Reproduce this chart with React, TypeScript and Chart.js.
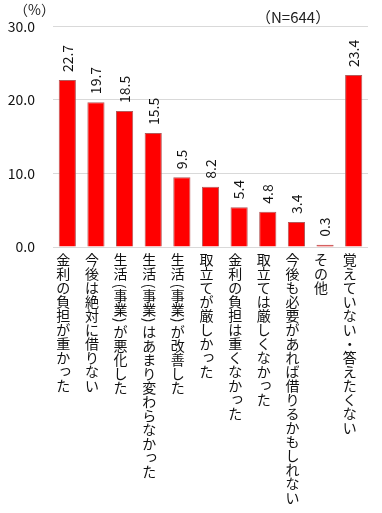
import React, { useEffect, useRef } from "react";
import { Chart, registerables } from "chart.js";

Chart.register(...registerables);

const categories = [
  "金利の負担が重かった",
  "今後は絶対に借りない",
  "生活（事業）が悪化した",
  "生活（事業）はあまり変わらなかった",
  "生活（事業）が改善した",
  "取立てが厳しかった",
  "金利の負担は重くなかった",
  "取立ては厳しくなかった",
  "今後も必要があれば借りるかもしれない",
  "その他",
  "覚えていない・答えたくない",
];
const values = [22.7, 19.7, 18.5, 15.5, 9.5, 8.2, 5.4, 4.8, 3.4, 0.3, 23.4];
const yTicks = [0, 10, 20, 30];
const unitLabel = "（%）";
const sampleLabel = "（N=644）";

const FONT = "'Noto Sans CJK JP', 'Noto Sans', sans-serif";
const SMALL_KANA = "っゃゅょぁぃぅぇぉ";

const chartPlugin = {
  id: "customText",
  afterDatasetsDraw(chart: any) {
    const ctx = chart.ctx;
    const meta = chart.getDatasetMeta(0);
    ctx.save();
    ctx.font = `14px ${FONT}`;
    ctx.fillStyle = "#111";
    ctx.textAlign = "left";
    ctx.textBaseline = "middle";
    meta.data.forEach((bar: any, i: number) => {
      ctx.save();
      ctx.translate(bar.x, bar.y - 8);
      ctx.rotate(-Math.PI / 2);
      ctx.fillText(values[i].toFixed(1), 0, 0);
      ctx.restore();
    });
    ctx.restore();
  },
  afterDraw(chart: any) {
    const ctx = chart.ctx;
    const xs = chart.scales.x;
    ctx.save();
    ctx.font = `14px ${FONT}`;
    ctx.fillStyle = "#111";
    ctx.textAlign = "center";
    ctx.textBaseline = "middle";
    categories.forEach((label, i) => {
      const cx = xs.getPixelForValue(i) - 4;
      let y = chart.chartArea.bottom + 6;
      for (const ch of Array.from(label)) {
        if (ch === "（" || ch === "）") {
          const h = 8;
          ctx.save();
          ctx.translate(cx, y + h / 2 + (ch === "（" ? 1 : -1));
          ctx.rotate(Math.PI / 2);
          ctx.fillText(ch === "（" ? "(" : ")", 0, 0);
          ctx.restore();
          y += h;
        } else {
          const h = 14;
          if (SMALL_KANA.includes(ch)) {
            ctx.fillText(ch, cx + 2, y + h / 2 - 2);
          } else {
            ctx.fillText(ch, cx, y + h / 2);
          }
          y += h;
        }
      }
    });
    ctx.fillStyle = "#222";
    ctx.textAlign = "left";
    ctx.fillText(unitLabel, 14, 10);
    ctx.font = `15px ${FONT}`;
    ctx.fillText(sampleLabel, 256, 17);
    ctx.restore();
  },
};

export default function App() {
  const ref = useRef<HTMLCanvasElement>(null);
  useEffect(() => {
    if (!ref.current) return;
    const chart = new Chart(ref.current, {
      type: "bar",
      data: {
        labels: categories,
        datasets: [
          {
            data: values,
            backgroundColor: "#ff0000",
            borderColor: "#b45a5a",
            borderWidth: 1,
            barPercentage: 0.6,
            categoryPercentage: 1,
          },
        ],
      },
      options: {
        responsive: false,
        animation: false,
        layout: { padding: { top: 25, right: 14, left: 0, bottom: 0 } },
        plugins: {
          legend: { display: false },
          tooltip: { enabled: false },
        },
        scales: {
          x: {
            grid: { display: false },
            border: { display: false },
            ticks: { display: false },
            afterFit: (s: any) => {
              s.height = 266;
            },
          },
          y: {
            min: 0,
            max: 30,
            afterBuildTicks: (s: any) => {
              s.ticks = yTicks.map((v) => ({ value: v }));
            },
            grid: { color: "#d9d9d9", drawTicks: false },
            border: { display: false },
            ticks: {
              padding: 18,
              color: "#111",
              font: { family: FONT, size: 14 },
              callback: (v: any) => Number(v).toFixed(1),
            },
            afterFit: (s: any) => {
              s.width = 53;
            },
          },
        },
      },
      plugins: [chartPlugin],
    });
    return () => chart.destroy();
  }, []);
  return (
    <div style={{ position: "fixed", left: 0, top: 0, width: 382, height: 513, background: "#fff" }}>
      <canvas ref={ref} width={382} height={513} style={{ display: "block" }} />
    </div>
  );
}
